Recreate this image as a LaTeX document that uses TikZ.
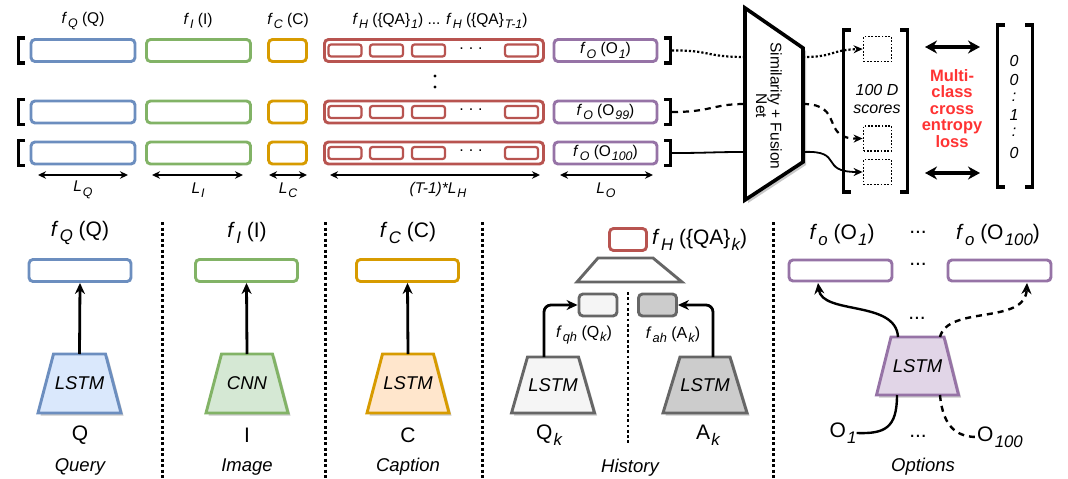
\documentclass[tikz,border=0pt]{standalone}
\usepackage{fontspec}
\setmainfont{Liberation Sans}
\usetikzlibrary{arrows.meta}
\definecolor{qb}{HTML}{6C8EBF}\definecolor{qf}{HTML}{DAE8FC}
\definecolor{ib}{HTML}{82B366}\definecolor{if}{HTML}{D5E8D4}
\definecolor{cb}{HTML}{D79B00}\definecolor{cf}{HTML}{FFE6CC}
\definecolor{hb}{HTML}{B85450}
\definecolor{ob}{HTML}{9673A6}\definecolor{of}{HTML}{E1D5E7}
\definecolor{gb}{HTML}{666666}\definecolor{gl}{HTML}{F5F5F5}\definecolor{gd}{HTML}{CCCCCC}
\definecolor{redtxt}{HTML}{FF3333}
\definecolor{shadowc}{HTML}{C8C8C8}
\newcommand\sbi[1]{\hspace{0.06em}\raisebox{-0.28em}{\fontsize{0.8em}{0.9em}\selectfont\itshape #1}}
\newcommand\ff{\textit{f}}
\newcommand\fs[1]{\fontsize{#1}{#1}\selectfont}
\tikzset{
  tb/.style={draw, rounded corners=4pt, line width=2.9pt, minimum height=22pt, inner sep=0pt, fill=white},
  qbox/.style={tb, draw=qb, minimum width=104pt},
  ibox/.style={tb, draw=ib, minimum width=104pt},
  cbox/.style={tb, draw=cb, minimum width=38pt},
  hbox/.style={tb, draw=hb, minimum width=219pt},
  hin/.style={draw=hb, rounded corners=2.5pt, line width=2.2pt, minimum width=33pt, minimum height=12pt, inner sep=0pt},
  obox/.style={tb, draw=ob, minimum width=103pt, font=\fs{15.5}},
  brk/.style={line width=3.4pt},
  dimarr/.style={line width=2pt, {Stealth[length=8pt,width=7.5pt]}-{Stealth[length=8pt,width=7.5pt]}},
  bigarr/.style={line width=3.2pt, {Stealth[length=12pt,width=13pt]}-{Stealth[length=12pt,width=13pt]}},
  uparr/.style={line width=2.8pt, -{Stealth[length=11pt,width=10pt]}},
  con/.style={line width=1.8pt},
  dotc/.style={line width=2.2pt, dash pattern=on 2.2pt off 2pt},
  dashc/.style={line width=2.2pt, dash pattern=on 6pt off 5pt},
  sepline/.style={line width=3pt, dash pattern=on 3pt off 2.5pt},
  sbox/.style={draw, line width=1.8pt, dash pattern=on 1.8pt off 1.6pt, minimum width=28pt, minimum height=25pt, inner sep=0pt},
  bb/.style={draw, rounded corners=4pt, line width=2.9pt, minimum height=22pt, inner sep=0pt, fill=white},
  trtext/.style={font=\fs{18.5}\itshape},
  lbl/.style={font=\fs{21}, inner sep=0pt},
  toplbl/.style={font=\fs{15.5}, inner sep=0pt},
  captxt/.style={font=\fs{18.5}\itshape, inner sep=0pt},
}
% row: index, y center, option text
\newcommand\toprow[3]{%
  \draw[brk] (25,#2-12.5) -- (18.5,#2-12.5) -- (18.5,#2+12.5) -- (25,#2+12.5);
  \node[qbox] (tq#1) at (83,#2) {};
  \node[ibox] (ti#1) at (198.5,#2) {};
  \node[cbox] (tc#1) at (287.5,#2) {};
  \node[hbox] (th#1) at (434,#2) {};
  \node[hin] (tha#1) at (345,#2) {};
  \node[hin] (thb#1) at (386.5,#2) {};
  \node[hin] (thc#1) at (428.5,#2) {};
  \node[font=\fs{16}] (thd#1) at (471,#2-2) {.\hspace{5pt}.\hspace{5pt}.};
  \node[hin] (the#1) at (521.5,#2) {};
  \node[obox] (to#1) at (605.5,#2) {#3};
  \draw[brk] (664,#2-12.5) -- (670.5,#2-12.5) -- (670.5,#2+12.5) -- (664,#2+12.5);
  \coordinate (br#1) at (672,#2);
}
\newcommand\trap[8]{% name, cx, ytop, ybot, halftop, halfbot, style, text
  \fill[shadowc] (#2-#5+2.5,#3+2.5) -- (#2+#5+2.5,#3+2.5) -- (#2+#6+2.5,#4+2.5) -- (#2-#6+2.5,#4+2.5) -- cycle;
  \draw[#7, line width=2.9pt, line join=miter] (#2-#5,#3) -- (#2+#5,#3) -- (#2+#6,#4) -- (#2-#6,#4) -- cycle;
  \node[trtext] (#1) at (#2,{(#3+#4)/2}) {#8};
  \coordinate (#1-t) at (#2,#3);
  \coordinate (#1-b) at (#2,#4);
}
\begin{document}
\begin{tikzpicture}[x=1pt,y=-1pt]
\useasboundingbox[fill=white] (0,0) rectangle (1068,479);

% ---------------- top section ----------------
\node[toplbl] (lq) at (83,21) {\ff\sbi{Q} (Q)};
\node[toplbl] (li) at (198,21) {\ff\sbi{I} (I)};
\node[toplbl] (lc) at (288,21) {\ff\sbi{C} (C)};
\node[toplbl] (lh) at (440,21) {\ff\sbi{H} (\{QA\}\sbi{1}) ... \ff\sbi{H} (\{QA\}\sbi{T-1})};

\toprow{1}{50.5}{\ff\sbi{O} (O\sbi{1})}
\toprow{2}{112}{\ff\sbi{O} (O\sbi{99})}
\toprow{3}{153}{\ff\sbi{O} (O\sbi{100})}

\fill (435,76) circle (1.7pt);
\fill (435,87) circle (1.7pt);

\draw[dimarr] (38,175) -- (128,175);
\node[toplbl] (dq) at (83,190) {\textit{L}\sbi{Q}};
\draw[dimarr] (152,175) -- (243,175);
\node[toplbl] (di) at (198,190) {\textit{L}\sbi{I}};
\draw[dimarr] (269,175) -- (307,175);
\node[toplbl] (dc) at (288,190) {\textit{L}\sbi{C}};
\draw[dimarr] (330,175) -- (540,175);
\node[toplbl] (dh) at (438,190) {\textit{(T-1)*L}\sbi{H}};
\draw[dimarr] (560,175) -- (653,175);
\node[toplbl] (do) at (606,190) {\textit{L}\sbi{O}};

% similarity + fusion net
\fill[shadowc] (748,11) -- (806,51) -- (806,165) -- (748,203) -- cycle;
\draw[line width=3.6pt, fill=white, line join=miter] (745,8) -- (803,48) -- (803,162) -- (745,200) -- cycle;
\node[rotate=-90, align=center, font=\fs{15.5}] (sim) at (769,106) {Similarity + Fusion\\[-1pt]Net};
\coordinate (sl1) at (745,57);
\coordinate (sl2) at (745,104);
\coordinate (sl3) at (745,152);
\coordinate (sr1) at (803,57);
\coordinate (sr2) at (803,104);
\coordinate (sr3) at (803,152);

% scores
\draw[brk] (851,30) -- (843.5,30) -- (843.5,192) -- (851,192);
\draw[brk] (900,30) -- (907.5,30) -- (907.5,192) -- (900,192);
\node[sbox] (s1) at (877.5,49) {};
\node[sbox] (s2) at (877.5,138.5) {};
\node[sbox] (s3) at (877.5,172) {};
\node[font=\fs{16}\itshape, align=center, inner sep=0pt] (sc) at (877,99) {100 D\\[2pt]scores};

% connectors
\draw[dotc] (br1) .. controls (710,50) and (705,57) .. (sl1);
\draw[dotc, -{Stealth[length=9pt,width=8pt]}] (sr1) .. controls (835,57) and (830,50) .. (s1.west);
\draw[dashc] (br2) .. controls (712,112) and (712,104) .. (sl2);
\draw[dashc, -{Stealth[length=9pt,width=8pt]}] (sr2) .. controls (845,104) and (820,139) .. (s2.west);
\draw[con] (br3) .. controls (710,153) and (710,152) .. (sl3);
\draw[con, -{Stealth[length=9pt,width=8pt]}] (sr3) .. controls (845,150) and (818,172) .. (s3.west);

% loss
\draw[bigarr] (925,47) -- (980,47);
\draw[bigarr] (925,173) -- (980,173);
\node[font=\fs{16.5}\bfseries, text=redtxt, align=center, inner sep=0pt] (loss) at (952,108.5)
  {\fontsize{16.5}{18.7}\selectfont Multi-\\class\\cross\\entropy\\loss};

% target vector
\draw[brk] (1005,25) -- (997.5,25) -- (997.5,187) -- (1005,187);
\draw[brk] (1025,25) -- (1032.5,25) -- (1032.5,187) -- (1025,187);
\node[font=\fs{16}\itshape, inner sep=0pt] (v1) at (1014,61) {0};
\node[font=\fs{16}\itshape, inner sep=0pt] (v2) at (1014,80) {0};
\node[font=\fs{16}\itshape, inner sep=0pt] (v3) at (1014,97) {:};
\node[font=\fs{16}\itshape, inner sep=0pt] (v4) at (1014,115) {1};
\node[font=\fs{16}\itshape, inner sep=0pt] (v5) at (1014,132) {:};
\node[font=\fs{16}\itshape, inner sep=0pt] (v6) at (1014,153) {0};

% ---------------- bottom section ----------------
\draw[sepline] (162,222) -- (162,479);
\draw[sepline] (325,222) -- (325,479);
\draw[sepline] (482,222) -- (482,479);
\draw[sepline] (773,222) -- (773,479);

% Query
\node[lbl] (bql) at (80,233) {\ff\sbi{Q} (Q)};
\node[bb, draw=qb, minimum width=102pt] (bqb) at (80,270.5) {};
\trap{bqt}{79.5}{354}{413}{26}{41.5}{draw=qb, fill=qf}{LSTM}
\draw[uparr] (bqt-t) -- (bqb.south);
\node[lbl] (bq) at (80,435) {Q};
\node[captxt] (bqc) at (80,467) {Query};

% Image
\node[lbl] (bil) at (247,233) {\ff\sbi{I} (I)};
\node[bb, draw=ib, minimum width=102pt] (bib) at (246.5,270.5) {};
\trap{bit}{247}{354}{413}{25.5}{41}{draw=ib, fill=if}{CNN}
\draw[uparr] (bit-t) -- (bib.south);
\node[lbl] (bi) at (247,435) {I};
\node[captxt] (bic) at (247,467) {Image};

% Caption
\node[lbl] (bcl) at (408,233) {\ff\sbi{C} (C)};
\node[bb, draw=cb, minimum width=102pt] (bcb) at (407.5,270.5) {};
\trap{bct}{408}{354}{413}{25.5}{41}{draw=cb, fill=cf}{LSTM}
\draw[uparr] (bct-t) -- (bcb.south);
\node[lbl] (bc) at (408,435) {C};
\node[captxt] (bcc) at (408,467) {Caption};

% History
\node[bb, draw=hb, minimum width=37pt, minimum height=22pt] (hr) at (628,239.5) {};
\node[lbl, anchor=west] (hrl) at (652,240) {\ff\sbi{H} (\{QA\}\sbi{k})};
\draw[gb, line width=2.9pt, line join=miter] (598,258) -- (653,258) -- (682,282) -- (577,282) -- cycle;
\draw[line width=2.8pt, dash pattern=on 2.8pt off 2.5pt] (628,292) -- (628,443);
\node[bb, draw=gb, fill=gl, minimum width=38pt] (hqb) at (598,305) {};
\node[bb, draw=gb, fill=gd, minimum width=38pt] (hab) at (657.5,305) {};
\node[font=\fs{16}, inner sep=0pt] (hql) at (584,335) {\ff\sbi{qh} (Q\sbi{k})};
\node[font=\fs{16}, inner sep=0pt] (hal) at (673,335) {\ff\sbi{ah} (A\sbi{k})};
\trap{hqt}{553}{357}{413}{25.5}{41.5}{draw=gb, fill=gl}{LSTM}
\trap{hat}{705}{357}{413}{25}{42}{draw=gb, fill=gd}{LSTM}
\coordinate (hqa) at (544,357);
\coordinate (haa) at (713,357);
\draw[uparr, rounded corners=7pt] (hqa) |- (hqb.west);
\draw[uparr, rounded corners=7pt] (haa) |- (hab.east);
\node[lbl] (hq) at (549,435) {Q\sbi{k}};
\node[lbl] (ha) at (708,435) {A\sbi{k}};
\node[captxt] (hc) at (630,468) {History};

% Options
\node[lbl] (ol1) at (842,235) {\ff\sbi{o} (O\sbi{1})};
\node[lbl] (old) at (918,232) {...};
\node[lbl] (ol2) at (998,235) {\ff\sbi{o} (O\sbi{100})};
\node[bb, draw=ob, minimum width=103pt, minimum height=21pt] (ob1) at (840.5,270.5) {};
\node[bb, draw=ob, minimum width=103pt, minimum height=21pt] (ob2) at (999.5,270.5) {};
\node[lbl] (obd) at (918,264) {...};
\trap{ot}{917.5}{337}{395}{26.5}{41}{draw=ob, fill=of}{LSTM}
\coordinate (ota) at (898,337);
\coordinate (otb) at (940,337);
\coordinate (otc) at (897,395);
\coordinate (otd) at (940,395);
\coordinate (oa1) at (818,283);
\coordinate (oa2) at (1027,283);
\draw[uparr, line width=2.4pt] (ota) .. controls (896,300) and (822,315) .. (oa1);
\draw[uparr, line width=2.4pt, dash pattern=on 6pt off 5pt] (otb) .. controls (948,305) and (1025,325) .. (oa2);
\node[lbl] (otd2) at (917,318) {...};
\node[lbl] (oo1) at (843,433) {O\sbi{1}};
\node[lbl] (oo2) at (1000,437) {O\sbi{100}};
\draw[line width=2.4pt] (otc) .. controls (897,428) and (885,434) .. (oo1.east);
\draw[line width=2.4pt, dash pattern=on 6pt off 5pt] (otd) .. controls (943,430) and (960,437) .. (oo2.west);
\node[lbl] (ood) at (918,436) {...};
\node[captxt] (oc) at (923,467) {Options};
\end{tikzpicture}
\end{document}
